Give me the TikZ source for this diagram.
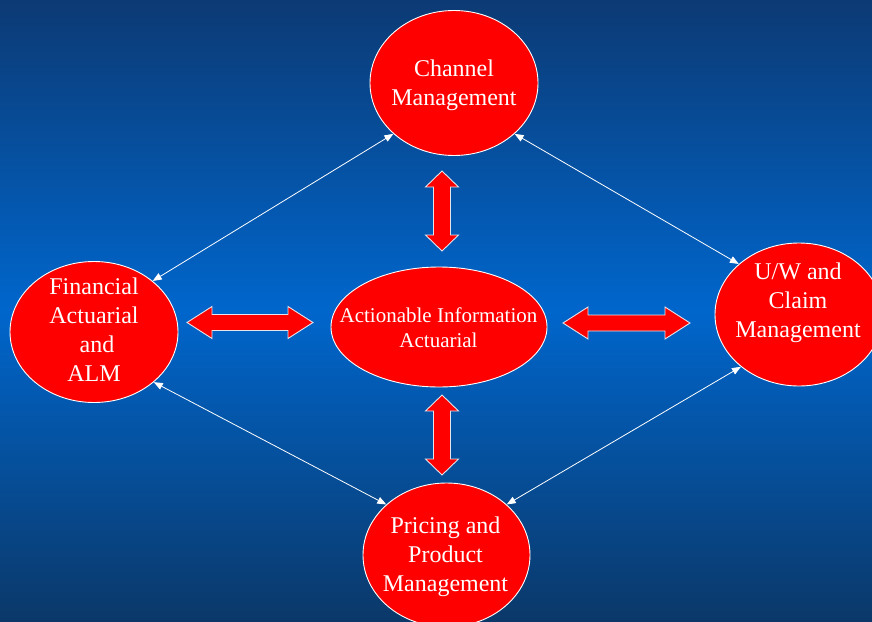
\documentclass[tikz,border=0pt]{standalone}
\usepackage{fontspec}
\setmainfont{Liberation Serif}
\usetikzlibrary{shapes.geometric,arrows.meta}

\definecolor{navytop}{HTML}{0C3A74}
\definecolor{bluemid}{HTML}{0066CC}
\definecolor{navybot}{HTML}{0B3869}
\definecolor{ovalred}{HTML}{FF0000}
\definecolor{rimgrey}{HTML}{E4E4EC}

\tikzset{
  oval/.style={ellipse, draw=white, line width=0.9pt, fill=ovalred, inner sep=0pt},
  lbl/.style={text=white, align=center, inner sep=0pt,
              font=\fontsize{24}{28.8}\selectfont},
  lblsmall/.style={lbl, font=\fontsize{21}{25}\selectfont},
  link/.style={white, line width=0.8pt,
               {Triangle[length=9pt,width=7pt]}-{Triangle[length=9pt,width=7pt]}},
  blockarrow/.style={fill=ovalred, draw=rimgrey, line width=0.9pt, line join=miter}
}

\begin{document}
\begin{tikzpicture}[x=1pt, y=-1pt]
  \useasboundingbox (0,0) rectangle (872,621);
  \clip (0,0) rectangle (872,621);

  % background: dark at top and bottom, bright blue through the middle
  \shade[top color=navytop, bottom color=navybot, middle color=bluemid]
    (0,0) rectangle (872,621);

  % ovals
  \node[oval, minimum width=168pt, minimum height=145pt] (chan) at (454,83) {};
  \node[oval, minimum width=168pt, minimum height=141pt] (fin)  at (94,332) {};
  \node[oval, minimum width=216pt, minimum height=120pt] (core) at (439,327) {};
  \node[oval, minimum width=168pt, minimum height=143pt] (uw)   at (799,314.5) {};
  \node[oval, minimum width=167pt, minimum height=144pt] (pri)  at (446.5,555) {};

  % labels
  \node[lbl] (chanT) at (454,85.6) {Channel\\Management};
  \node[lbl, font=\fontsize{24}{29}\selectfont] (finT) at (94,330)
    {Financial\\Actuarial\\\hspace*{.25em}and\\ALM};
  \node[lblsmall] (coreT) at (438.5,327.3) {Actionable Information\\Actuarial};
  \node[lbl] (uwT) at (798,302.7) {U/W and\\Claim\\Management};
  \node[lbl, font=\fontsize{24}{29}\selectfont] (priT) at (445.5,557)
    {Pricing and\\Product\\Management};

  % thin two-way links around the ring
  \draw[link] (chan.220) -- (fin.41);
  \draw[link] (chan.320) -- (uw.140);
  \draw[link] (fin.320) -- (pri.140);
  \draw[link] (uw.222) -- (pri.40);

  % block double arrows to the central oval
  \begin{scope}[shift={(250,322.5)}]
    \draw[blockarrow] (-63,0) -- (-38,-16) -- (-38,-8) -- (38,-8) -- (38,-16)
      -- (63,0) -- (38,16) -- (38,8) -- (-38,8) -- (-38,16) -- cycle;
  \end{scope}
  \begin{scope}[shift={(626.5,323)}]
    \draw[blockarrow] (-63.5,0) -- (-38.5,-16) -- (-38.5,-8) -- (38.5,-8) -- (38.5,-16)
      -- (63.5,0) -- (38.5,16) -- (38.5,8) -- (-38.5,8) -- (-38.5,16) -- cycle;
  \end{scope}
  \begin{scope}[shift={(442,211)}]
    \draw[blockarrow] (0,-40) -- (16.5,-24) -- (8.5,-24) -- (8.5,24) -- (16.5,24)
      -- (0,40) -- (-16.5,24) -- (-8.5,24) -- (-8.5,-24) -- (-16.5,-24) -- cycle;
  \end{scope}
  \begin{scope}[shift={(442,435)}]
    \draw[blockarrow] (0,-40) -- (16.5,-24) -- (8.5,-24) -- (8.5,24) -- (16.5,24)
      -- (0,40) -- (-16.5,24) -- (-8.5,24) -- (-8.5,-24) -- (-16.5,-24) -- cycle;
  \end{scope}
\end{tikzpicture}
\end{document}
